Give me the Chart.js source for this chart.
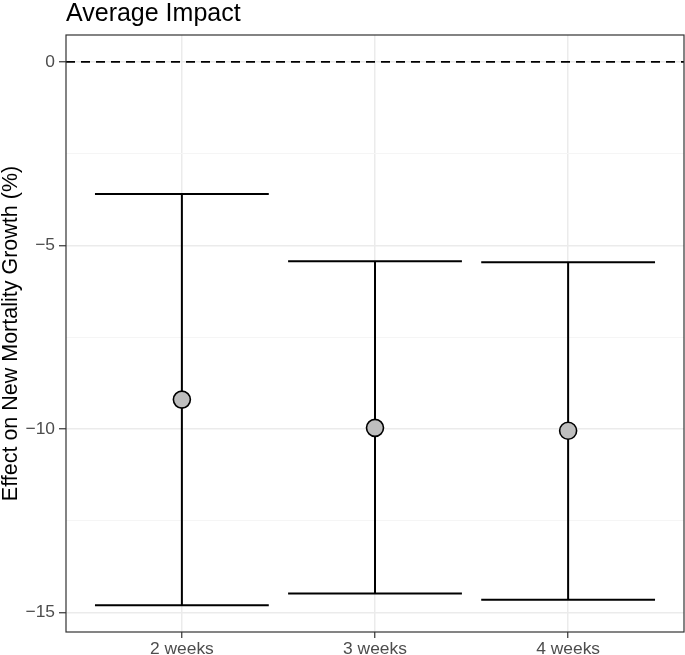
<!DOCTYPE html>
<html>
<head>
<meta charset="utf-8">
<script src="https://cdn.jsdelivr.net/npm/chart.js@4.4.1/dist/chart.umd.min.js"></script>
<style>
  html, body { margin: 0; padding: 0; background: #ffffff; }
  #wrap { width: 685px; height: 655px; position: relative; }
</style>
</head>
<body>
<div id="wrap"><canvas id="c"></canvas></div>
<script>
// ---- data ----
const categories = ['2 weeks', '3 weeks', '4 weeks'];
const estimates = [-9.20, -9.97, -10.05];
const lowerBounds = [-14.80, -14.48, -14.65];
const upperBounds = [-3.60, -5.43, -5.46];
const yMajorTicks = [0, -5, -10, -15];
const yMinorTicks = [-2.5, -7.5, -12.5];
const yTickLabels = ['0', '\u22125', '\u221210', '\u221215'];
const referenceValue = 0;

// ---- layout constants (not data) ----
const X_MIN = 0.4, X_MAX = 3.6;
const Y_MIN = -15.53, Y_MAX = 0.73;
const CAP_HALF = 0.45;
const FONT = '"Liberation Sans", Arial, Helvetica, sans-serif';

// build datasets from arrays
const pointData = categories.map((c, i) => ({ x: i + 1, y: estimates[i] }));
const stemData = [];
const capData = [];
categories.forEach((c, i) => {
  const x = i + 1;
  stemData.push({ x: x, y: lowerBounds[i] }, { x: x, y: upperBounds[i] }, { x: x, y: null });
  capData.push({ x: x - CAP_HALF, y: upperBounds[i] }, { x: x + CAP_HALF, y: upperBounds[i] }, { x: x, y: null });
  capData.push({ x: x - CAP_HALF, y: lowerBounds[i] }, { x: x + CAP_HALF, y: lowerBounds[i] }, { x: x, y: null });
});
const refData = [{ x: X_MIN, y: referenceValue }, { x: X_MAX, y: referenceValue }];

const panelBorder = {
  id: 'panelBorder',
  afterDraw(chart) {
    const a = chart.chartArea, ctx = chart.ctx;
    ctx.save();
    ctx.strokeStyle = '#333333';
    ctx.lineWidth = 1.2;
    ctx.strokeRect(a.left, a.top, a.right - a.left, a.bottom - a.top);
    ctx.restore();
  }
};

const isMajor = v => yMajorTicks.indexOf(v) !== -1;

new Chart(document.getElementById('c'), {
  type: 'scatter',
  data: {
    datasets: [
      {
        label: 'estimate',
        data: pointData,
        pointRadius: 8.5,
        pointHoverRadius: 8.5,
        backgroundColor: '#BEBEBE',
        borderColor: '#000000',
        borderWidth: 1.6,
        order: 0
      },
      {
        label: 'stems',
        data: stemData,
        showLine: true,
        spanGaps: false,
        pointRadius: 0,
        borderColor: '#000000',
        borderWidth: 2,
        order: 1
      },
      {
        label: 'caps',
        data: capData,
        showLine: true,
        spanGaps: false,
        pointRadius: 0,
        borderColor: '#000000',
        borderWidth: 2,
        order: 2
      },
      {
        label: 'zero',
        data: refData,
        showLine: true,
        pointRadius: 0,
        borderColor: '#000000',
        borderWidth: 1.8,
        borderDash: [9, 6],
        order: 3
      }
    ]
  },
  options: {
    responsive: true,
    maintainAspectRatio: false,
    animation: false,
    events: [],
    layout: { autoPadding: false, padding: { left: 0, right: 1, top: 0, bottom: 0 } },
    plugins: {
      legend: { display: false },
      tooltip: { enabled: false },
      title: {
        display: true,
        text: 'Average Impact',
        align: 'start',
        fullSize: false,
        color: '#000000',
        font: { family: FONT, size: 25, weight: 'normal', lineHeight: 0.84 },
        padding: { top: 4, bottom: 10 }
      }
    },
    scales: {
      x: {
        type: 'linear',
        min: X_MIN,
        max: X_MAX,
        afterBuildTicks: s => { s.ticks = categories.map((c, i) => ({ value: i + 1 })); },
        afterFit: s => { s.height = 23; s.paddingLeft = 0; s.paddingRight = 0; },
        ticks: {
          autoSkip: false,
          maxRotation: 0,
          padding: 3,
          color: '#4D4D4D',
          font: { family: FONT, size: 17.4, lineHeight: 1 },
          callback: v => categories[Math.round(v) - 1]
        },
        grid: {
          color: '#EBEBEB',
          lineWidth: 1.5,
          tickColor: '#333333',
          tickWidth: 1.2,
          tickLength: 6
        },
        border: { display: false }
      },
      y: {
        type: 'linear',
        min: Y_MIN,
        max: Y_MAX,
        afterBuildTicks: s => {
          s.ticks = yMajorTicks.concat(yMinorTicks).sort((a, b) => b - a).map(v => ({ value: v }));
        },
        afterFit: s => { s.width = 66; s.paddingTop = 0; s.paddingBottom = 0; },
        ticks: {
          autoSkip: false,
          padding: 4,
          color: '#4D4D4D',
          font: { family: FONT, size: 17.4 },
          callback: v => {
            const k = yMajorTicks.indexOf(v);
            return k === -1 ? '' : yTickLabels[k];
          }
        },
        grid: {
          color: ctx => isMajor(ctx.tick.value) ? '#EBEBEB' : '#F5F5F5',
          lineWidth: ctx => isMajor(ctx.tick.value) ? 1.5 : 1,
          tickColor: ctx => isMajor(ctx.tick.value) ? '#333333' : 'rgba(0,0,0,0)',
          tickWidth: 1.2,
          tickLength: 7
        },
        border: { display: false },
        title: {
          display: true,
          text: 'Effect on New Mortality Growth (%)',
          color: '#000000',
          font: { family: FONT, size: 21.5, lineHeight: 1 },
          padding: { top: 0, bottom: 0 }
        }
      }
    }
  },
  plugins: [panelBorder]
});
</script>
</body>
</html>
